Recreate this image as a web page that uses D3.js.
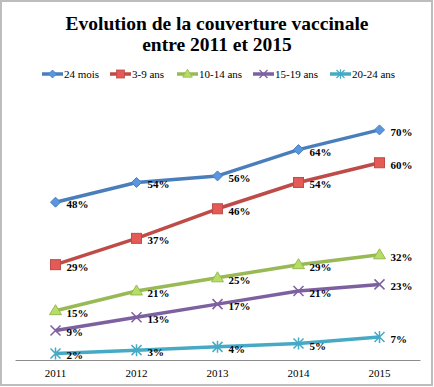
<!DOCTYPE html>
<html>
<head>
<meta charset="utf-8">
<script src="https://cdn.jsdelivr.net/npm/d3@7"></script>
<style>
  body { margin: 0; background: #fff; }
  text { font-family: "Liberation Serif", "DejaVu Serif", serif; }
</style>
</head>
<body>
<div id="chart"></div>
<script>
var years = ["2011", "2012", "2013", "2014", "2015"];
var seriesNames = ["24 mois", "3-9 ans", "10-14 ans", "15-19 ans", "20-24 ans"];
var mois24 = [48, 54, 56, 64, 70];
var ans3_9 = [29, 37, 46, 54, 60];
var ans10_14 = [15, 21, 25, 29, 32];
var ans15_19 = [9, 13, 17, 21, 23];
var ans20_24 = [2, 3, 4, 5, 7];
var colors = ["#4a7ebb", "#be4b48", "#98b954", "#7d60a0", "#46aac5"];
var markers = ["diamond", "square", "triangle", "cross", "star"];

var allValues = [mois24, ans3_9, ans10_14, ans15_19, ans20_24];

const w = 434;
const h = 387;

const svg = d3.select("#chart")
    .append("svg")
    .attr("width", w)
    .attr("height", h);

// outer frame
svg.append("rect")
    .attr("x", 1).attr("y", 1)
    .attr("width", w - 3).attr("height", h - 3)
    .attr("fill", "#fff")
    .attr("stroke", "#bdbdbd")
    .attr("stroke-width", 2);

// title
svg.append("text")
    .attr("x", 217).attr("y", 30)
    .attr("text-anchor", "middle")
    .attr("font-size", 19.5).attr("font-weight", "bold")
    .text("Evolution de la couverture vaccinale");
svg.append("text")
    .attr("x", 217).attr("y", 51)
    .attr("text-anchor", "middle")
    .attr("font-size", 19.5).attr("font-weight", "bold")
    .text("entre 2011 et 2015");

const xScale = d3.scaleBand()
    .domain(years)
    .range([15, 420]);

const yScale = d3.scaleLinear()
    .domain([0, 80])
    .range([360, 97]);

function drawMarker(g, type, color) {
    var fill = d3.color(color).brighter(0.5);
    if (type === "diamond") {
        g.append("path").attr("d", "M0,-5L5,0L0,5L-5,0Z")
            .attr("fill", fill).attr("stroke", color).attr("stroke-width", 1);
    } else if (type === "square") {
        g.append("rect").attr("x", -5).attr("y", -5).attr("width", 10).attr("height", 10)
            .attr("fill", fill).attr("stroke", color).attr("stroke-width", 1);
    } else if (type === "triangle") {
        g.append("path").attr("d", "M0,-6L6,4L-6,4Z")
            .attr("fill", fill).attr("stroke", color).attr("stroke-width", 1);
    } else if (type === "cross") {
        g.append("path").attr("d", "M-5,-5L5,5M5,-5L-5,5")
            .attr("stroke", color).attr("stroke-width", 1.5);
    } else if (type === "star") {
        g.append("path").attr("d", "M-5,-5L5,5M5,-5L-5,5M0,-6L0,6")
            .attr("stroke", color).attr("stroke-width", 1.5);
    }
}

// x axis
const xAxis = d3.axisBottom(xScale).tickSize(0).tickPadding(9);
const gx = svg.append("g")
    .attr("transform", "translate(0,360)")
    .call(xAxis);
gx.select(".domain").attr("stroke", "#8c8c8c").attr("stroke-width", 1);
gx.selectAll("text")
    .attr("font-family", "Liberation Serif, serif")
    .attr("font-size", 11)
    .attr("fill", "#000");

const line = d3.line()
    .x((d, i) => xScale(years[i]) + xScale.bandwidth() / 2)
    .y(d => yScale(d));

allValues.forEach(function (vals, s) {
    svg.append("path")
        .datum(vals)
        .attr("fill", "none")
        .attr("stroke", colors[s])
        .attr("stroke-width", 3.5)
        .attr("stroke-linejoin", "round")
        .attr("d", line);

    vals.forEach(function (v, i) {
        var cx = xScale(years[i]) + xScale.bandwidth() / 2;
        var cy = yScale(v);
        var g = svg.append("g").attr("transform", "translate(" + cx + "," + cy + ")");
        drawMarker(g, markers[s], colors[s]);
        svg.append("text")
            .attr("x", cx + 11)
            .attr("y", cy + 6)
            .attr("font-size", 11)
            .attr("font-weight", "bold")
            .text(v + "%");
    });
});

// legend
var legendX = [42, 110, 177, 253, 330];
seriesNames.forEach(function (name, s) {
    var g = svg.append("g").attr("transform", "translate(" + legendX[s] + ",74)");
    g.append("line").attr("x1", 0).attr("x2", 21).attr("y1", 0).attr("y2", 0)
        .attr("stroke", colors[s]).attr("stroke-width", 3.5);
    var m = g.append("g").attr("transform", "translate(10.5,0) scale(0.8)");
    drawMarker(m, markers[s], colors[s]);
    g.append("text").attr("x", 22).attr("y", 4)
        .attr("font-size", 11)
        .text(name);
});
</script>
</body>
</html>
